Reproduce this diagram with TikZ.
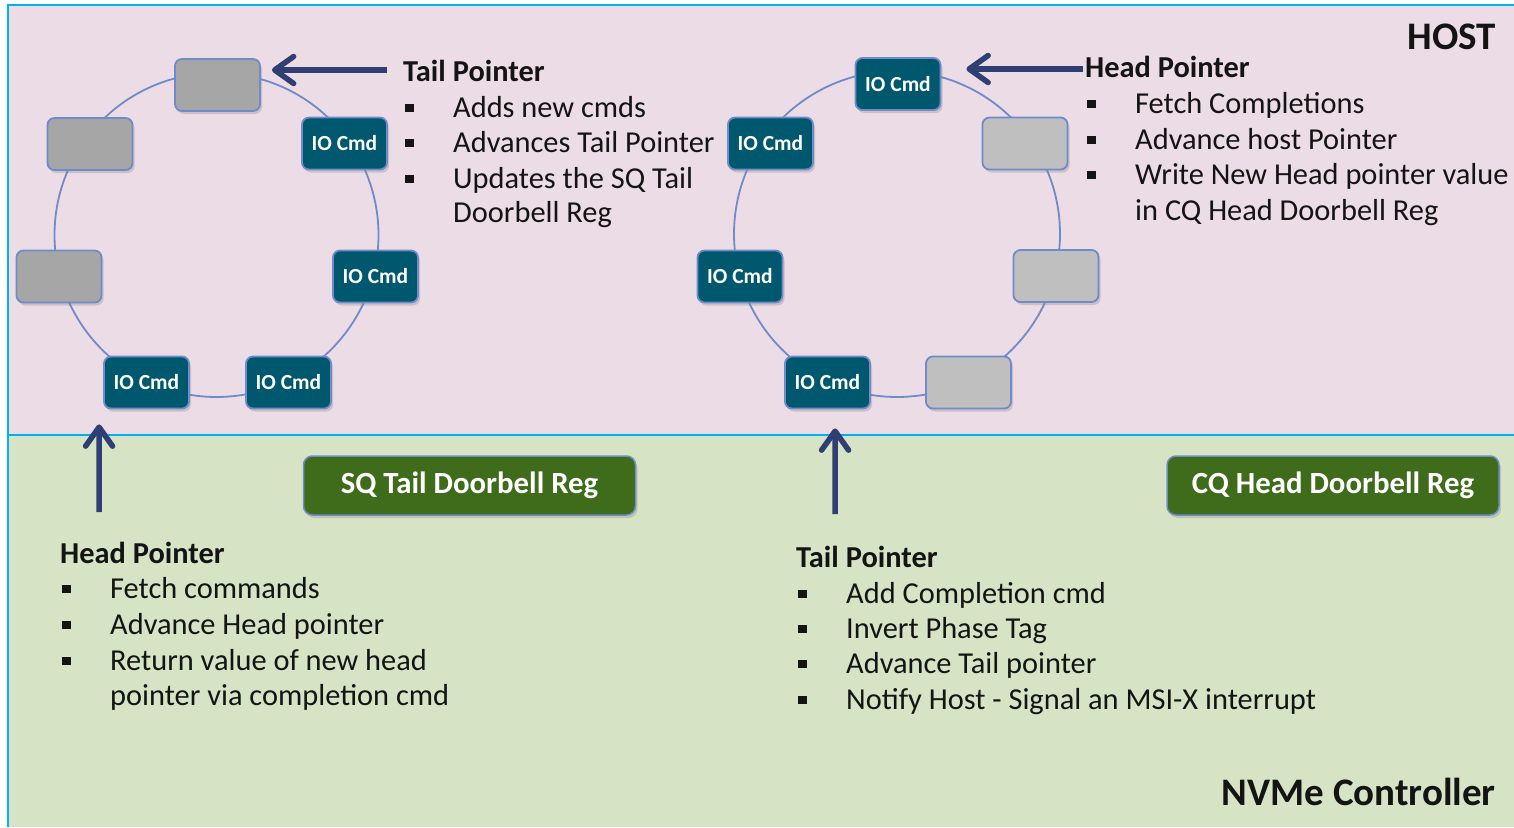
\documentclass[tikz,border=0pt]{standalone}
\usepackage{fontspec}
\setmainfont{Carlito}
\usetikzlibrary{arrows.meta,shadows,calc}
\definecolor{pinkbg}{RGB}{235,220,229}
\definecolor{greenbg}{RGB}{214,227,196}
\definecolor{cyanl}{RGB}{0,176,240}
\definecolor{tealbox}{RGB}{0,88,111}
\definecolor{boxedge}{RGB}{111,139,201}
\definecolor{arrowc}{RGB}{47,62,115}
\definecolor{dgray}{RGB}{166,166,166}
\definecolor{lgray}{RGB}{191,191,191}
\definecolor{dbgreen}{RGB}{62,108,26}
\definecolor{txtc}{RGB}{20,20,20}
\newcommand\bsq{\makebox[48pt][l]{\raisebox{5pt}{\rule{8.5pt}{8.5pt}}}}
\newcommand\bind{\hspace*{48pt}}
\tikzset{
  slot/.style={draw=boxedge, line width=1.8pt, rounded corners=7pt,
    minimum width=85pt, minimum height=52pt, inner sep=0pt,
    drop shadow={shadow xshift=2pt, shadow yshift=-3pt, opacity=0.3}},
  io/.style={slot, fill=tealbox, text=white, font=\fontsize{21.5}{24}\bfseries\selectfont},
  gslot/.style={slot, fill=dgray},
  lslot/.style={slot, fill=lgray},
  dbell/.style={draw=boxedge, line width=1.5pt, fill=dbgreen, rounded corners=9pt,
    minimum width=332pt, minimum height=59pt, inner sep=0pt, text=white,
    font=\fontsize{30.8}{36}\bfseries\selectfont,
    drop shadow={shadow xshift=2pt, shadow yshift=-3pt, opacity=0.3}},
  txt/.style={inner sep=0pt, anchor=base west, text=txtc, font=\fontsize{30.4}{36}\selectfont},
  ttl/.style={txt, font=\fontsize{30.4}{36}\bfseries\selectfont},
  big/.style={inner sep=0pt, anchor=base east, text=txtc, font=\fontsize{39}{44}\bfseries\selectfont},
  ring/.style={draw=boxedge, line width=1.8pt},
  ptr/.style={draw=arrowc, line width=5.5pt, -{Straight Barb[length=19pt,width=27pt,round]}},
}
\begin{document}
\begin{tikzpicture}[x=1pt,y=-1pt]
\useasboundingbox (0,0) rectangle (1514,827);
\fill[white] (0,0) rectangle (1514,827);
\fill[pinkbg] (8,5) rectangle (1514,435);
\fill[greenbg] (8,435) rectangle (1514,827);
\draw[cyanl, line width=2pt] (1514,5) -- (8,5) -- (8,827);
\draw[cyanl, line width=2pt] (8,435) -- (1514,435);

% rings
\draw[ring] (216.5,235) circle[radius=162pt];
\draw[ring] (897,234) circle[radius=163pt];

% left ring (submission queue)
\node[gslot] (b0) at (217.5,85) {};
\node[io]    (b1) at (344.5,143.5) {IO Cmd};
\node[io]    (b2) at (375.5,276.5) {IO Cmd};
\node[io]    (b3) at (288.5,382.5) {IO Cmd};
\node[io]    (b4) at (146.5,382.5) {IO Cmd};
\node[gslot] (b5) at (59,276.5) {};
\node[gslot] (b6) at (90,144) {};

% right ring (completion queue)
\node[io]    (c0) at (898,84) {IO Cmd};
\node[lslot] (c1) at (1025,143.5) {};
\node[lslot] (c2) at (1056,276) {};
\node[lslot] (c3) at (968.5,382.5) {};
\node[io]    (c4) at (827.5,382.5) {IO Cmd};
\node[io]    (c5) at (740,276.5) {IO Cmd};
\node[io]    (c6) at (770.5,143.5) {IO Cmd};

% region labels
\node[big] (host) at (1496,49) {HOST};
\node[big] (nvme) at (1496,805) {NVMe Controller};

% doorbells
\node[dbell] (sqdb) at (469.5,485.5) {SQ Tail Doorbell Reg};
\node[dbell] (cqdb) at (1333,485.5) {CQ Head Doorbell Reg};

% host SQ tail pointer text
\node[ttl] (tpA) at (403,81) {Tail Pointer};
\node[txt] (tpA1) at (405,117) {\bsq Adds new cmds};
\node[txt] (tpA2) at (405,152) {\bsq Advances Tail Pointer};
\node[txt] (tpA3) at (405,188) {\bsq Updates the SQ Tail};
\node[txt] (tpA4) at (405,222) {\bind Doorbell Reg};

% host CQ head pointer text
\node[ttl] (hpA) at (1085,77) {Head Pointer};
\node[txt] (hpA1) at (1087,113) {\bsq Fetch Completions};
\node[txt] (hpA2) at (1087,149) {\bsq Advance host Pointer};
\node[txt] (hpA3) at (1087,184) {\bsq Write New Head pointer value};
\node[txt] (hpA4) at (1087,220) {\bind in CQ Head Doorbell Reg};

% controller SQ head pointer text
\node[ttl] (hpB) at (60,563) {Head Pointer};
\node[txt] (hpB1) at (62,598) {\bsq Fetch commands};
\node[txt] (hpB2) at (62,634) {\bsq Advance Head pointer};
\node[txt] (hpB3) at (62,670) {\bsq Return value of new head};
\node[txt] (hpB4) at (62,705) {\bind pointer via completion cmd};

% controller CQ tail pointer text
\node[ttl] (tpB) at (796,567) {Tail Pointer};
\node[txt] (tpB1) at (798,603) {\bsq Add Completion cmd};
\node[txt] (tpB2) at (798,638) {\bsq Invert Phase Tag};
\node[txt] (tpB3) at (798,673) {\bsq Advance Tail pointer};
\node[txt] (tpB4) at (798,709) {\bsq Notify Host - Signal an MSI-X interrupt};

% pointer arrows
\coordinate (tpAt) at ([xshift=-16pt,yshift=11pt]tpA.base west);
\draw[ptr] (tpAt) -- ($(tpAt -| b0.east)+(11,0)$);
\coordinate (hpAt) at ([xshift=-2pt,yshift=8pt]hpA.base west);
\draw[ptr] (hpAt) -- ($(hpAt -| c0.east)+(25,0)$);
\coordinate (hpBt) at ([xshift=39pt,yshift=51pt]hpB.base west);
\draw[ptr] (hpBt) -- ($(b4.south west)+(-4,15)$);
\coordinate (tpBt) at ([xshift=39pt,yshift=53pt]tpB.base west);
\draw[ptr] (tpBt) -- ($(c4.south west)+(51,19)$);
\end{tikzpicture}
\end{document}
